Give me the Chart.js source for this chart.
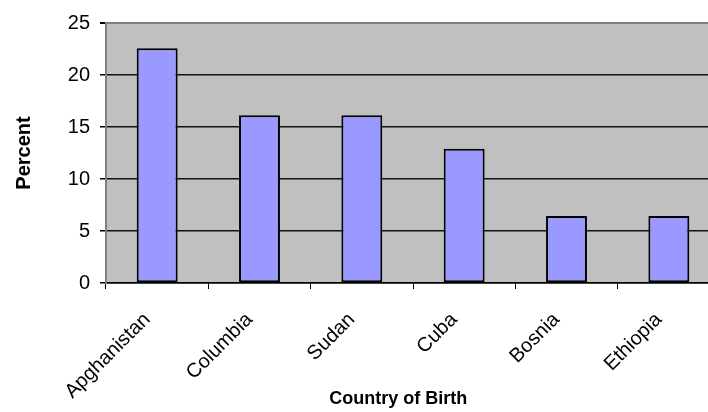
<!DOCTYPE html>
<html>
<head>
<meta charset="utf-8">
<script src="https://cdn.jsdelivr.net/npm/chart.js@4.4.0/dist/chart.umd.min.js"></script>
<style>
  html, body { margin: 0; padding: 0; background: #fff; overflow: hidden; }
  #wrap { width: 720px; height: 412px; }
</style>
</head>
<body>
<div id="wrap"><canvas id="chart" width="720" height="412"></canvas></div>
<script>
const countries = ['Apghanistan', 'Columbia', 'Sudan', 'Cuba', 'Bosnia', 'Ethiopia'];
const percents = [22.58, 16.13, 16.13, 12.9, 6.45, 6.45];
const yTicks = [0, 5, 10, 15, 20, 25];
const xTitle = 'Country of Birth';
const yTitle = 'Percent';

const font = '"Liberation Sans", Arial, sans-serif';

// gray plot area, like the old excel charts
const plotBg = {
    id: 'plotBg',
    beforeDraw(chart) {
        const a = chart.chartArea;
        const ctx = chart.ctx;
        ctx.save();
        ctx.fillStyle = '#c0c0c0';
        ctx.fillRect(a.left, a.top, a.right - a.left, a.bottom - a.top);
        ctx.restore();
    }
};

// x axis title, centred a bit left of the (cropped) plot area
const xTitlePlugin = {
    id: 'xTitlePlugin',
    afterDraw(chart) {
        const a = chart.chartArea;
        const ctx = chart.ctx;
        ctx.save();
        ctx.font = 'bold 18px ' + font;
        ctx.fillStyle = '#000';
        ctx.textAlign = 'center';
        ctx.textBaseline = 'middle';
        ctx.fillText(xTitle, a.left + (a.right - a.left) * 0.476, 399);
        ctx.restore();
    }
};

new Chart(document.getElementById('chart').getContext('2d'), {
    type: 'bar',
    data: {
        labels: countries,
        datasets: [{
            data: percents,
            backgroundColor: '#9999ff',
            borderColor: '#000',
            borderWidth: 2,
            borderSkipped: false,
            barPercentage: 0.4,
            categoryPercentage: 1
        }]
    },
    options: {
        responsive: false,
        animation: false,
        layout: { padding: { top: 23, left: 0, right: 0, bottom: 0 } },
        plugins: { legend: { display: false }, tooltip: { enabled: false } },
        scales: {
            x: {
                offset: true,
                grid: { display: true, drawOnChartArea: false, offset: true, color: '#000', tickLength: 6, lineWidth: 1 },
                border: { color: '#000', width: 1.5 },
                ticks: { color: '#000', font: { family: font, size: 20 }, maxRotation: 45, minRotation: 45, autoSkip: false, padding: 19, labelOffset: -10 },
                afterFit(scale) { scale.height = 129; }
            },
            y: {
                min: 0,
                max: 25,
                afterBuildTicks(scale) { scale.ticks = yTicks.map(v => ({ value: v })); },
                grid: {
                    color: ctx => ctx.tick && ctx.tick.value === 25 ? '#808080' : '#111',
                    lineWidth: ctx => ctx.tick && ctx.tick.value === 25 ? 2 : 1.5,
                    tickColor: '#000',
                    tickLength: 6
                },
                border: { color: '#808080', width: 2 },
                ticks: { color: '#000', font: { family: font, size: 20 }, padding: 10 },
                title: { display: true, text: yTitle, color: '#000', font: { family: font, size: 20, weight: 'bold' }, padding: { top: 12, bottom: 0 } },
                afterFit(scale) { scale.width = 106; }
            }
        }
    },
    plugins: [plotBg, xTitlePlugin]
});
</script>
</body>
</html>
